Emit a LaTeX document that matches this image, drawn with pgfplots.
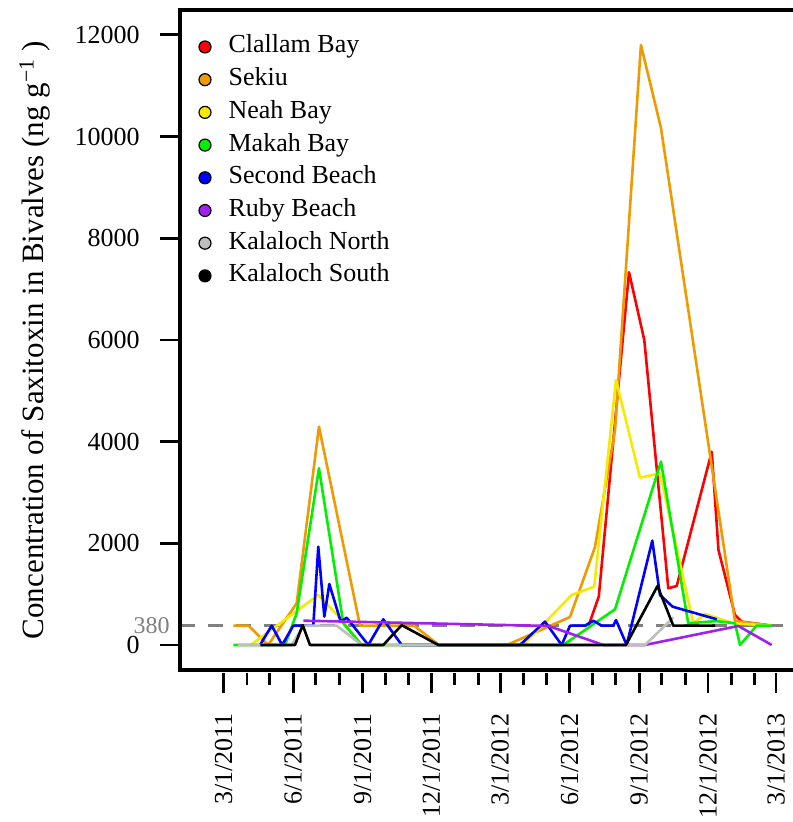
\documentclass[border=0pt]{standalone}
\usepackage{fontspec}
\setmainfont{Liberation Serif}
\usepackage{pgfplots}
\pgfplotsset{compat=1.18}

\definecolor{cRed}{RGB}{255,0,0}
\definecolor{cOrange}{RGB}{238,154,0}
\definecolor{cYellow}{RGB}{245,235,0}
\definecolor{cGreen}{RGB}{0,240,0}
\definecolor{cBlue}{RGB}{0,0,255}
\definecolor{cPurple}{RGB}{160,32,240}
\definecolor{cGray}{RGB}{190,190,190}
\definecolor{refGray}{RGB}{128,128,128}

\begin{document}
\begin{tikzpicture}
\useasboundingbox (-90pt,-76pt) rectangle (306pt,335pt);
\begin{axis}[
    at={(0,0)}, anchor=south west,
    scale only axis, width=306pt, height=330pt,
    xmin=-57.7, xmax=752.2, ymin=-492, ymax=12490,
    clip=false,
    axis x line*=bottom, axis y line*=left,
    axis x line shift=1.5pt,
    axis line style={draw=none, -},
    tick align=outside,
    major tick length=10pt, minor tick length=6pt,
    every tick/.style={black, line width=1.4pt},
    xtick={0,92,184,275,366,458,550,641,731},
    minor xtick={31,61,122,153,214,245,306,337,397,427,488,519,580,611,672,703},
    xticklabels={3/1/2011,6/1/2011,9/1/2011,12/1/2011,3/1/2012,6/1/2012,9/1/2012,12/1/2012,3/1/2013},
    ytick={0,2000,4000,6000,8000,10000,12000},
    scaled y ticks=false,
    /pgf/number format/1000 sep={},
    /pgf/number format/assume math mode=true,
    ticklabel style={font=\fontsize{13}{15}\selectfont, inner sep=0pt},
    xticklabel style={rotate=90, anchor=east},
    yticklabel style={anchor=east},
    xticklabel shift=10pt, yticklabel shift=10pt,
    ylabel={Concentration of Saxitoxin in Bivalves (ng g\textsuperscript{−1} )},
    ylabel style={at={(axis description cs:-0.237,0.5)}, anchor=center, font=\fontsize{15.5}{18}\selectfont},
    legend image code/.code={\filldraw[#1, draw=black, line width=0.6pt] (0pt,0pt) circle (3pt);},
    legend cell align=left,
    legend style={at={(axis description cs:0,1)}, anchor=north west, xshift=9pt, yshift=-12.3pt,
        draw=none, fill=none, inner sep=0pt, row sep=4.35pt, column sep=8.5pt,
        font=\fontsize{13}{15}\selectfont,
        nodes={inner sep=0pt, text height=9pt, text depth=3pt}},
    every axis plot/.append style={line width=1.3pt, line join=round},
]
\addlegendimage{fill=cRed}\addlegendentry{Clallam Bay}
\addlegendimage{fill=cOrange}\addlegendentry{Sekiu}
\addlegendimage{fill=cYellow}\addlegendentry{Neah Bay}
\addlegendimage{fill=cGreen}\addlegendentry{Makah Bay}
\addlegendimage{fill=cBlue}\addlegendentry{Second Beach}
\addlegendimage{fill=cPurple}\addlegendentry{Ruby Beach}
\addlegendimage{fill=cGray}\addlegendentry{Kalaloch North}
\addlegendimage{fill=black}\addlegendentry{Kalaloch South}

% reference level
\addplot[refGray, line width=1.5pt, dash pattern=on 7.5pt off 6.5pt, forget plot]
    coordinates {(-57.7,380) (760,380)};

% Clallam Bay
\addplot[cRed, forget plot] coordinates {
(483,380) (496.5,954) (536.5,7331) (556.7,6000) (588.5,1115) (599.6,1160)
(646,3802) (654.9,1868) (676.7,590) (685.6,458) (725.5,380)};
% Sekiu
\addplot[cOrange, forget plot] coordinates {
(13,380) (33,380) (59,0) (96.7,820) (126.2,4294) (180.5,380) (252,380) (285,0)
(375,0) (458.4,550) (491.5,1928) (518,4229) (552.3,11802) (578.8,10169)
(676.7,472) (725.5,380)};
% Neah Bay
\addplot[cYellow, forget plot] coordinates {
(36,0) (125.3,983) (154,530) (182.7,0) (396.6,0) (460.6,983) (490.5,1147)
(519.3,5213) (551,3291) (577.5,3377) (621.6,427) (637.1,610) (674.5,427) (725.5,380)};
% Makah Bay
\addplot[cGreen, forget plot] coordinates {
(13,0) (81.3,0) (96.7,623) (126.2,3476) (158.4,427) (182.7,0) (449.5,0) (518,702)
(578.8,3606) (614.9,427) (652,470) (676.7,427) (683.4,0) (705.4,380) (725.5,380)};
% Second Beach
\addplot[cBlue, forget plot] coordinates {
(48.2,0) (63.7,380) (77.5,0) (92.2,380) (118.7,380) (125.3,1934) (133.3,557)
(139.9,1200) (155,459) (162.9,537) (191.5,0) (211.3,505) (235.7,0) (392.2,0)
(425.3,459) (447.4,0) (458.4,380) (478.2,380) (489.2,478) (500.3,380) (515.7,380)
(519.3,490) (533.4,0) (567.3,2052) (577.5,983) (594.3,753) (652.7,505)};
% Ruby Beach
\addplot[cPurple, forget plot] coordinates {
(105.5,478) (430,374) (502.5,0) (557.6,0) (681.2,374) (725.3,0)};
% Kalaloch North
\addplot[cGray, forget plot] coordinates {
(19,0) (90,0) (106,380) (149.7,380) (182.7,0) (557.6,0) (595.1,540)};
% Kalaloch South
\addplot[black, forget plot] coordinates {
(48.8,0) (94.5,0) (104.7,390) (114.3,0) (211.3,0) (235.7,390) (284.1,0)
(532.5,0) (574.2,1160) (595.1,380) (650.4,380)};

\node[anchor=east, inner sep=0pt, text=refGray, font=\fontsize{12}{14}\selectfont]
    at (axis cs:-57.7,380) [xshift=-5pt] {380};

\draw[line width=2pt, line join=miter]
    (rel axis cs:1.05,0) -- (rel axis cs:0,0) -- (rel axis cs:0,1) -- (rel axis cs:1.05,1);
\end{axis}
\end{tikzpicture}
\end{document}
